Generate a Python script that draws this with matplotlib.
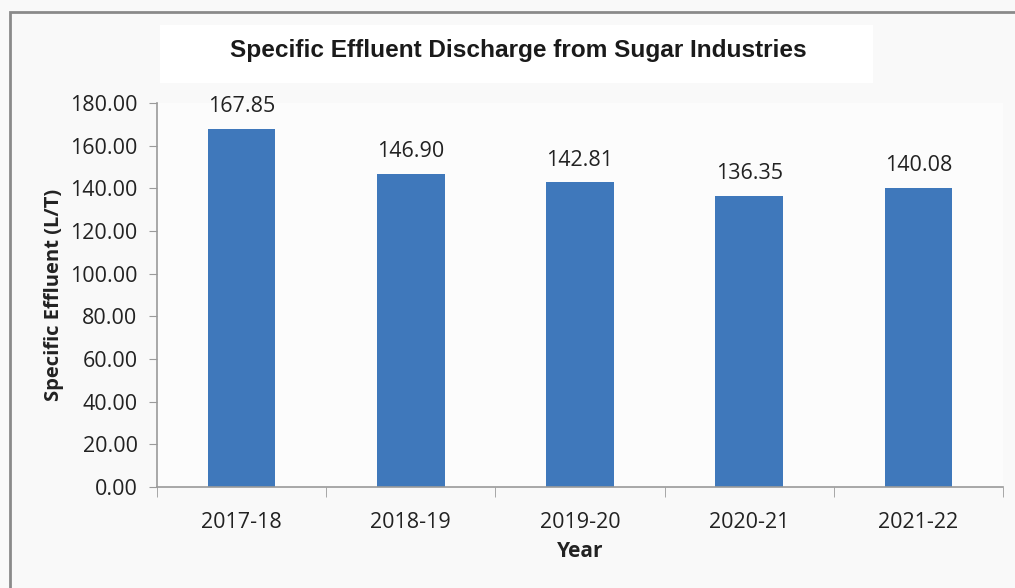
import matplotlib.pyplot as plt
from matplotlib.patches import Rectangle

years = ['2017-18', '2018-19', '2019-20', '2020-21', '2021-22']
effluent = [167.85, 146.90, 142.81, 136.35, 140.08]
yticks = [0, 20, 40, 60, 80, 100, 120, 140, 160, 180]

W, H = 1015, 588
fig = plt.figure(figsize=(W / 100, H / 100), dpi=100, facecolor='#f9f9f9')

# outer chart border
fig.patches.append(Rectangle((10 / W, -0.05), 1.02 - 10 / W, 1 - 12 / H + 0.05,
                             transform=fig.transFigure, fill=False,
                             edgecolor='#8a8a8a', linewidth=2))
# white title block
fig.patches.append(Rectangle((160 / W, 1 - 83 / H), (873 - 160) / W, 58 / H,
                             transform=fig.transFigure, facecolor='white',
                             edgecolor='none'))

ax = fig.add_axes([157 / W, 1 - 487 / H, (1003 - 157) / W, (487 - 103) / H])
ax.set_facecolor('#fcfcfc')

x = range(len(years))
bars = ax.bar(x, effluent, width=0.40, color='#3f78bb')

font = 'Open Sans'
fs = 15.5
for xi, v in zip(x, effluent):
    ax.text(xi, v + 5.5, f'{v:.2f}', ha='center', va='bottom',
            fontsize=fs, family=font, color='#222222')

ax.set_xlim(-0.5, len(years) - 0.5)
ax.set_ylim(0, 180)
ax.set_yticks(yticks)
ax.set_yticklabels([f'{t:.2f}' for t in yticks], family=font, fontsize=fs, color='#222222')
ax.set_xticks(list(x))
ax.set_xticklabels(years, family=font, fontsize=fs, color='#222222')
ax.set_xticks([i - 0.5 for i in range(len(years) + 1)], minor=True)
ax.tick_params(axis='x', which='major', length=0, pad=18)
ax.tick_params(axis='x', which='minor', length=7, color='#9a9a9a', direction='out')
ax.tick_params(axis='y', length=6, color='#9a9a9a', pad=8)

for side in ['top', 'right']:
    ax.spines[side].set_visible(False)
for side in ['left', 'bottom']:
    ax.spines[side].set_color('#9a9a9a')
    ax.spines[side].set_linewidth(1.2)

ax.set_xlabel('Year', family=font, fontsize=15, fontweight='bold', color='#222222', labelpad=6)
ax.set_ylabel('Specific Effluent (L/T)', family=font, fontsize=14.5, fontweight='bold',
              color='#222222', labelpad=4)

fig.text(518 / W, 1 - 50 / H, 'Specific Effluent Discharge from Sugar Industries',
         ha='center', va='center', family='Liberation Sans', fontweight='bold',
         fontsize=17.6, color='#1a1a1a')

fig.savefig('out.png', dpi=100, facecolor=fig.get_facecolor())
